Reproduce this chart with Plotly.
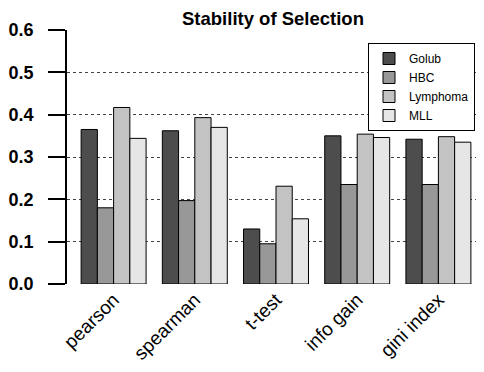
import plotly.graph_objects as go

categories = ["pearson", "spearman", "t-test", "info gain", "gini index"]
series_names = ["Golub", "HBC", "Lymphoma", "MLL"]
golub = [0.365, 0.362, 0.130, 0.350, 0.342]
hbc = [0.180, 0.197, 0.095, 0.235, 0.235]
lymphoma = [0.417, 0.393, 0.231, 0.354, 0.348]
mll = [0.344, 0.370, 0.154, 0.346, 0.335]
colors = ["#4D4D4D", "#989898", "#C3C3C3", "#E6E6E6"]
y_ticks = [0.0, 0.1, 0.2, 0.3, 0.4, 0.5, 0.6]

FONT = "Liberation Sans, Arial, sans-serif"
W, H = 476, 364
L, R, T, B = 59, 5, 22, 88

fig = go.Figure()
for name, vals, col in zip(series_names, [golub, hbc, lymphoma, mll], colors):
    fig.add_trace(go.Bar(
        x=categories, y=vals, name=name,
        marker=dict(color=col, line=dict(color="black", width=1)),
    ))

fig.update_layout(
    width=W, height=H,
    margin=dict(l=L, r=R, t=T, b=B, autoexpand=False),
    paper_bgcolor="white", plot_bgcolor="white",
    barmode="group", bargap=0.2, bargroupgap=0,
    font=dict(family=FONT, color="black"),
    title=dict(text="<b>Stability of Selection</b>", x=(L + (W - R)) / 2 / W,
               xanchor="center", y=(H - 10.5) / H, yanchor="middle",
               font=dict(size=18.5, family=FONT, color="black")),
    legend=dict(x=(360 - L) / (W - L - R), y=(276 - 35) / (276 - 22),
                xanchor="left", yanchor="top",
                bgcolor="white", bordercolor="black", borderwidth=1,
                font=dict(size=12, family=FONT), tracegroupgap=0,
                itemwidth=30),
    xaxis=dict(range=[-0.574, 4.5], showline=False, ticks="",
               tickangle=-45, tickfont=dict(size=19, family=FONT),
               showgrid=False),
    yaxis=dict(range=[0, 0.6], tickvals=y_ticks,
               ticktext=[f"<b>{v:.1f}</b>" for v in y_ticks],
               showline=True, linecolor="black", linewidth=1.5,
               ticks="outside", ticklen=17, tickwidth=1.5, tickcolor="black",
               tickfont=dict(size=18, family=FONT),
               showgrid=True, gridcolor="#444444", griddash="dot", gridwidth=1,
               zeroline=False, ticklabelstandoff=11),
)

fig.write_html("out.html")
